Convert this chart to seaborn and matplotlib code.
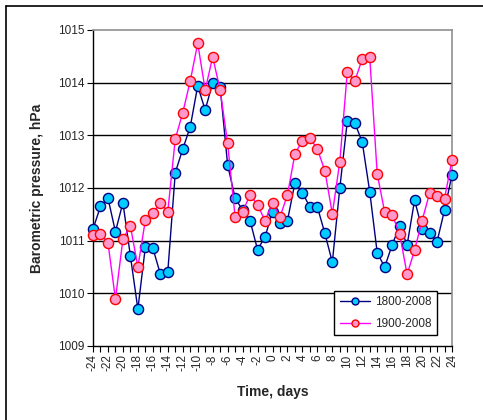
import matplotlib
matplotlib.use("Agg")
import matplotlib.pyplot as plt
import seaborn as sns
import pandas as pd
import numpy as np
from matplotlib.lines import Line2D

days = list(range(-24, 25))
p1800 = [1011.22, 1011.65, 1011.81, 1011.17, 1011.72, 1010.71, 1009.70, 1010.88, 1010.86, 1010.37,
         1010.41, 1012.29, 1012.74, 1013.16, 1013.94, 1013.48, 1014.00, 1013.92, 1012.44, 1011.81,
         1011.58, 1011.38, 1010.83, 1011.07, 1011.55, 1011.33, 1011.38, 1012.10, 1011.91, 1011.64,
         1011.64, 1011.14, 1010.59, 1012.00, 1013.27, 1013.24, 1012.87, 1011.93, 1010.77, 1010.50,
         1010.92, 1011.28, 1010.92, 1011.77, 1011.22, 1011.15, 1010.98, 1011.58, 1012.25]
p1900 = [1011.10, 1011.13, 1010.96, 1009.89, 1011.03, 1011.28, 1010.50, 1011.39, 1011.52, 1011.72,
         1011.55, 1012.93, 1013.43, 1014.03, 1014.75, 1013.86, 1014.49, 1013.86, 1012.85, 1011.45,
         1011.55, 1011.87, 1011.68, 1011.38, 1011.72, 1011.45, 1011.87, 1012.65, 1012.90, 1012.95,
         1012.74, 1012.33, 1011.51, 1012.50, 1014.20, 1014.03, 1014.45, 1014.49, 1012.27, 1011.54,
         1011.49, 1011.13, 1010.36, 1010.82, 1011.38, 1011.90, 1011.85, 1011.80, 1012.53]
labels = ["1800-2008", "1900-2008"]
y_ticks = [1009, 1010, 1011, 1012, 1013, 1014, 1015]

sns.set_theme(style="white")
plt.rcParams['font.family'] = ['Liberation Sans', 'DejaVu Sans']

df = pd.DataFrame({"day": days * 2,
                   "p": p1800 + p1900,
                   "series": [labels[0]] * len(days) + [labels[1]] * len(days)})

W, H = 483, 420
fig = plt.figure(figsize=(W / 100, H / 100), dpi=100)
L, R, T, B = 93, 452, 30, 346
ax = fig.add_axes([L / W, 1 - B / H, (R - L) / W, (B - T) / H])

styles = {labels[0]: dict(color="#000080", mfc="#00CCFF", mec="#000080"),
          labels[1]: dict(color="#FF00FF", mfc="#FF99CC", mec="#FF0000")}
for i, lab in enumerate(labels):
    st = styles[lab]
    sns.lineplot(data=df[df.series == lab], x="day", y="p", ax=ax, color=st["color"],
                 linewidth=1.0, marker="o", markersize=7.3, markerfacecolor=st["mfc"],
                 markeredgecolor=st["mec"], markeredgewidth=1.0, zorder=3 + i, legend=False)
for ln in ax.lines:
    ln.set_clip_on(False)

ax.set_xlim(-24, 24)
ax.set_ylim(1009, 1015)
ax.set_yticks(y_ticks)
ax.set_yticklabels([str(v) for v in y_ticks], fontsize=8.5)
ax.set_xticks(days)
ax.set_xticklabels([str(d) if d % 2 == 0 else "" for d in days], rotation=90, fontsize=8.5)
ax.tick_params(axis="both", direction="out", length=4, width=0.8, color="black", pad=2,
               bottom=True, left=True)
for v in y_ticks[1:-1]:
    ax.axhline(v, color="black", linewidth=1.0, zorder=1)
for s in ["left", "bottom"]:
    ax.spines[s].set_color("black")
    ax.spines[s].set_linewidth(1.0)
for s in ["top", "right"]:
    ax.spines[s].set_color("#909090")
    ax.spines[s].set_linewidth(1.2)
ax.set_xlabel("Time, days", fontsize=10, fontweight="bold", labelpad=10)
ax.set_ylabel("Barometric pressure, hPa", fontsize=10, fontweight="bold", labelpad=10)

handles = [Line2D([], [], color=styles[l]["color"], marker="o", markersize=5,
                  markerfacecolor=styles[l]["mfc"], markeredgecolor=styles[l]["mec"], lw=1.0)
           for l in labels]
leg = ax.legend(handles, labels, loc="lower right", bbox_to_anchor=((437 - L) / (R - L), (B - 335) / (B - T)),
                borderaxespad=0, fontsize=8.5, frameon=True, fancybox=False, edgecolor="black",
                framealpha=1, handlelength=2.6, handletextpad=0.4, borderpad=0.45, labelspacing=0.8)
leg.get_frame().set_linewidth(1.0)
leg.set_zorder(10)

# outer chart frame
fig.add_artist(Line2D([6 / W, 6 / W], [0, 1 - 6 / H], transform=fig.transFigure, color="black", lw=1.2))
fig.add_artist(Line2D([6 / W, 1], [1 - 6 / H, 1 - 6 / H], transform=fig.transFigure, color="black", lw=1.2))

fig.savefig("out.png", dpi=100)
